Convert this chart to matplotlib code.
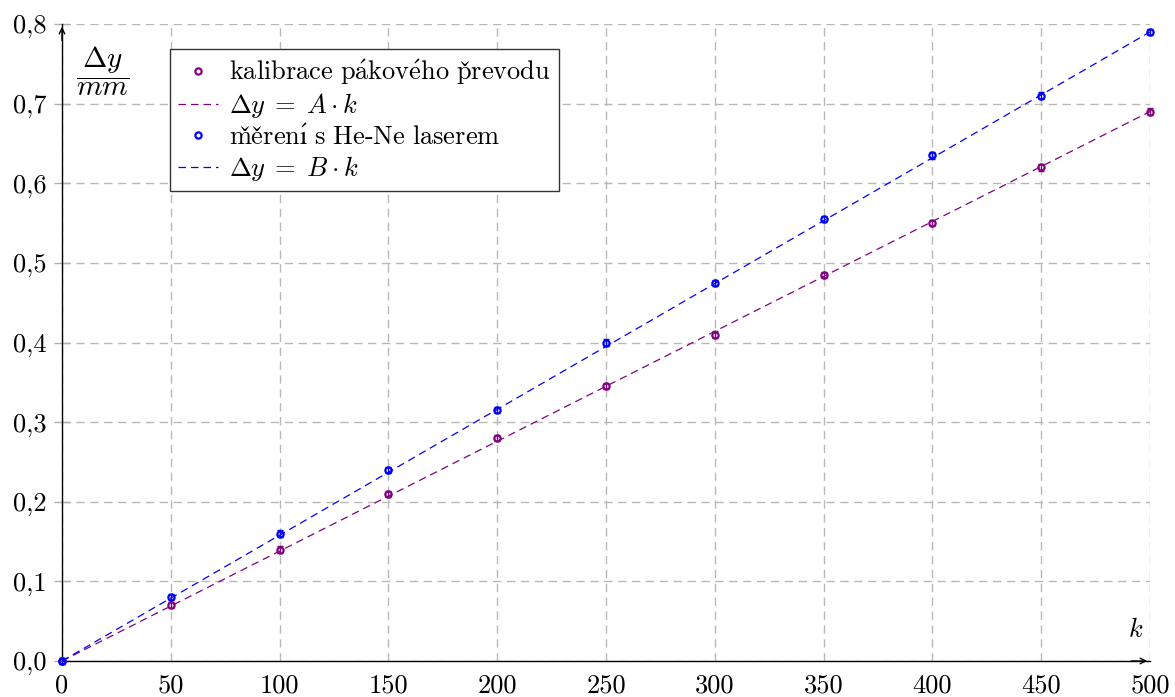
import numpy as np
import matplotlib
matplotlib.use("Agg")
import matplotlib.pyplot as plt
from matplotlib.ticker import FuncFormatter

plt.rcParams["font.family"] = ["cmr10", "DejaVu Serif"]
plt.rcParams["mathtext.fontset"] = "cm"
plt.rcParams["axes.formatter.use_mathtext"] = True

# data
k = [0, 50, 100, 150, 200, 250, 300, 350, 400, 450, 500]
dy_kalibrace = [0, 0.07, 0.14, 0.21, 0.28, 0.345, 0.41, 0.485, 0.55, 0.62, 0.69]
dy_laser = [0, 0.08, 0.16, 0.24, 0.315, 0.40, 0.475, 0.555, 0.635, 0.71, 0.79]
err = 0.004
A = 0.00138
B = 0.00158

purple = "#800080"
blue = "#0000ff"
fs = 19

fig = plt.figure(figsize=(11.75, 6.97), dpi=100)
ax = fig.add_axes([62 / 1175, 36 / 697, 1088 / 1175, 637 / 697])

kk = np.array([0, 500])

ax.errorbar(k, dy_kalibrace, yerr=err, fmt="none", ecolor=purple,
            elinewidth=1, capsize=2, zorder=4, clip_on=False)
h1, = ax.plot(k, dy_kalibrace, "o", ms=4.5, mfc="none", mec=purple, mew=1.6,
              zorder=5, clip_on=False,
              label=r"$\mathrm{kalibrace\ p\acute{a}kov\acute{e}ho\ p\check{r}evodu}$")
h2, = ax.plot(kk, A * kk, ls=(0, (6, 4)), lw=0.9, color=purple,
              label=r"$\Delta y\;=\;A \cdot k$", zorder=3)
ax.errorbar(k, dy_laser, yerr=err, fmt="none", ecolor=blue,
            elinewidth=1, capsize=2, zorder=4, clip_on=False)
h3, = ax.plot(k, dy_laser, "o", ms=4.5, mfc="none", mec=blue, mew=1.6,
              zorder=5, clip_on=False,
              label="$\\mathrm{m\\check{e}\\check{r}en\\acute{\\i}\\ s\\ He}$-$\\mathrm{Ne\\ laserem}$")
h4, = ax.plot(kk, B * kk, ls=(0, (6, 4)), lw=0.9, color=blue,
              label=r"$\Delta y\;=\;B \cdot k$", zorder=3)

ax.set_xlim(0, 500)
ax.set_ylim(0, 0.8)
ax.set_xticks(range(0, 501, 50))
ax.set_yticks(np.arange(0, 0.81, 0.1))
ax.yaxis.set_major_formatter(FuncFormatter(lambda v, p: f"{v:.1f}".replace(".", ",")))
ax.xaxis.set_major_formatter(FuncFormatter(lambda v, p: f"{int(round(v))}"))
ax.tick_params(labelsize=fs, color="#b0b0b0", width=1)
ax.tick_params(axis="y", direction="inout", length=12, pad=5)
ax.tick_params(axis="x", length=0, pad=9)
ax.grid(True, color="#b8b8b8", ls=(0, (6, 4)), lw=1)

for s in ["top", "right"]:
    ax.spines[s].set_visible(False)
ax.spines["left"].set_linewidth(1)
ax.spines["bottom"].set_linewidth(1)

ax.annotate("", xy=(0, 1.0), xytext=(0, 0.97), xycoords="axes fraction",
            arrowprops=dict(arrowstyle="->", lw=1, color="black", mutation_scale=10))
ax.annotate("", xy=(1.0, 0), xytext=(0.98, 0), xycoords="axes fraction",
            arrowprops=dict(arrowstyle="->", lw=1, color="black", mutation_scale=10))

ax.text(0.037, 0.926, r"$\dfrac{\Delta y}{mm}$", transform=ax.transAxes,
        fontsize=21, ha="center", va="center")
ax.text(0.987, 0.048, r"$k$", transform=ax.transAxes, fontsize=fs,
        ha="center", va="center")

leg = ax.legend(handles=[h1, h2, h3, h4], loc="upper left",
                bbox_to_anchor=(108 / 1088, 1 - 25 / 637),
                fontsize=fs, frameon=True, fancybox=False, edgecolor="#333333",
                framealpha=1, borderpad=0.32, labelspacing=0.16, handlelength=1.5,
                handletextpad=0.42, borderaxespad=0)
leg.get_frame().set_linewidth(1)

fig.savefig("out.png", dpi=100)
